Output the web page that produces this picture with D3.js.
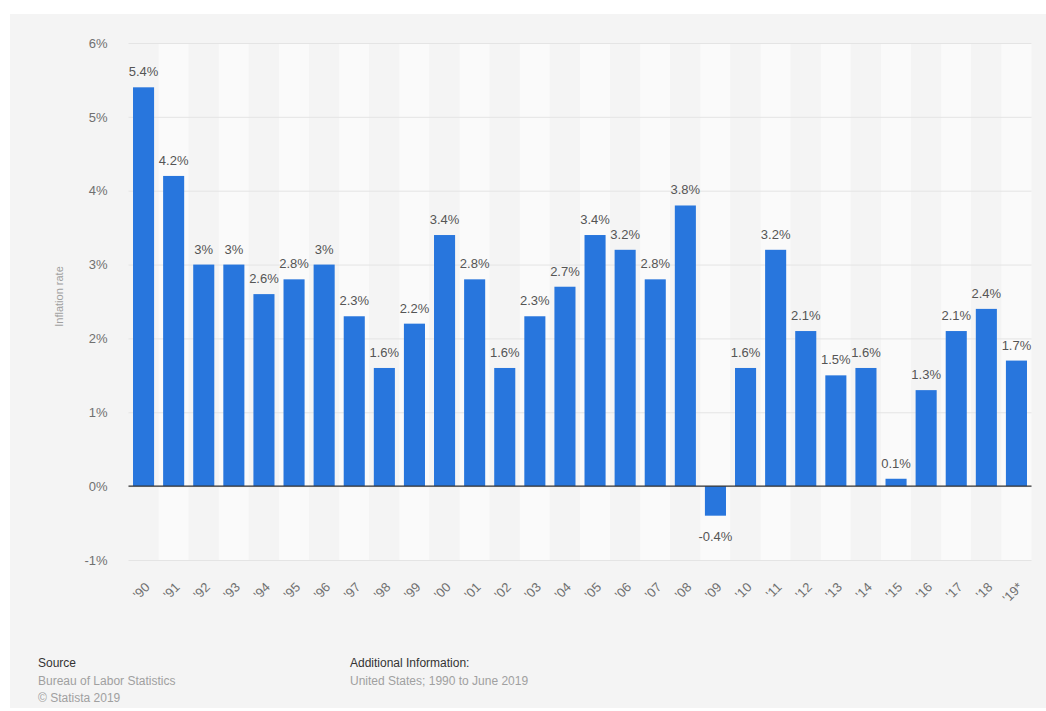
<!DOCTYPE html>
<html>
<head>
<meta charset="utf-8">
<script src="https://cdn.jsdelivr.net/npm/d3@7"></script>
<style>
  html, body { margin: 0; padding: 0; background: #ffffff; }
  svg { display: block; font-family: "Liberation Sans", Arial, Helvetica, sans-serif; }
</style>
</head>
<body>
<svg id="chart" width="1046" height="711"></svg>
<script>
// US inflation rate, 1990 – June 2019
const years = ["'90","'91","'92","'93","'94","'95","'96","'97","'98","'99",
               "'00","'01","'02","'03","'04","'05","'06","'07","'08","'09",
               "'10","'11","'12","'13","'14","'15","'16","'17","'18","'19*"];
const inflation = [5.4, 4.2, 3.0, 3.0, 2.6, 2.8, 3.0, 2.3, 1.6, 2.2,
                   3.4, 2.8, 1.6, 2.3, 2.7, 3.4, 3.2, 2.8, 3.8, -0.4,
                   1.6, 3.2, 2.1, 1.5, 1.6, 0.1, 1.3, 2.1, 2.4, 1.7];
const valueLabels = ["5.4%","4.2%","3%","3%","2.6%","2.8%","3%","2.3%","1.6%","2.2%",
                     "3.4%","2.8%","1.6%","2.3%","2.7%","3.4%","3.2%","2.8%","3.8%","-0.4%",
                     "1.6%","3.2%","2.1%","1.5%","1.6%","0.1%","1.3%","2.1%","2.4%","1.7%"];
const yTicks = [-1, 0, 1, 2, 3, 4, 5, 6];

const svg = d3.select("#chart");

// panel background
svg.append("rect")
  .attr("x", 10).attr("y", 14).attr("width", 1036).attr("height", 694)
  .attr("fill", "#f4f4f4");

const plot = { left: 128.5, right: 1031.5, top: 43, bottom: 560 };

const x = d3.scaleBand()
  .domain(years)
  .range([plot.left, plot.right])
  .paddingInner(0.3)
  .paddingOuter(0.15);

const y = d3.scaleLinear()
  .domain([-1, 6])
  .range([plot.bottom, plot.top]);

// alternating column stripes
const step = x.step();
const bandStart = d => x(d) - x.paddingInner() * step / 2;
svg.append("g")
  .selectAll("rect")
  .data(years)
  .join("rect")
  .attr("x", d => bandStart(d))
  .attr("y", plot.top)
  .attr("width", step)
  .attr("height", plot.bottom - plot.top)
  .attr("fill", (d, i) => i % 2 === 1 ? "#fafafa" : "#f4f4f4");

// horizontal grid + y axis labels
const yAxis = d3.axisLeft(y)
  .tickValues(yTicks)
  .tickFormat(d => d + "%")
  .tickSize(-(plot.right - plot.left))
  .tickPadding(21);

const gy = svg.append("g")
  .attr("transform", `translate(${plot.left},0)`)
  .call(yAxis);
gy.select(".domain").remove();
gy.selectAll(".tick line").attr("stroke", "#e4e4e4").attr("stroke-width", 1);
gy.selectAll(".tick text")
  .attr("fill", "#707070")
  .attr("font-size", 13)
  .attr("font-family", "Liberation Sans, Arial, sans-serif");

// y axis title
svg.append("text")
  .attr("transform", `translate(63,${(plot.top + plot.bottom) / 2 - 5}) rotate(-90)`)
  .attr("text-anchor", "middle")
  .attr("fill", "#a0a0a0")
  .attr("font-size", 11)
  .text("Inflation rate");

// bars
svg.append("g")
  .selectAll("rect")
  .data(inflation)
  .join("rect")
  .attr("x", (d, i) => x(years[i]))
  .attr("y", d => y(Math.max(0, d)))
  .attr("width", x.bandwidth())
  .attr("height", d => Math.abs(y(d) - y(0)))
  .attr("fill", "#2876dd");

// zero line
svg.append("line")
  .attr("x1", plot.left).attr("x2", plot.right)
  .attr("y1", y(0)).attr("y2", y(0))
  .attr("stroke", "#333333")
  .attr("stroke-width", 1.2);

// value labels
svg.append("g")
  .selectAll("text")
  .data(inflation)
  .join("text")
  .attr("x", (d, i) => x(years[i]) + x.bandwidth() / 2)
  .attr("y", d => d >= 0 ? y(d) - 11 : y(d) + 25)
  .attr("text-anchor", "middle")
  .attr("fill", "#555555")
  .attr("font-size", 13)
  .text((d, i) => valueLabels[i]);

// x axis labels
const xAxis = d3.axisBottom(x).tickSize(0).tickPadding(0);
const gx = svg.append("g")
  .attr("transform", `translate(0,${plot.bottom})`)
  .call(xAxis);
gx.select(".domain").remove();
gx.selectAll(".tick text")
  .attr("fill", "#707070")
  .attr("font-size", 13)
  .attr("font-family", "Liberation Sans, Arial, sans-serif")
  .attr("text-anchor", "end")
  .attr("dy", 0)
  .attr("transform", "translate(7,28) rotate(-45)");

// footer
const footer = svg.append("g").attr("font-size", 12);
footer.append("text").attr("x", 38).attr("y", 667).attr("fill", "#333333").text("Source");
footer.append("text").attr("x", 38).attr("y", 685).attr("fill", "#a0a0a0").text("Bureau of Labor Statistics");
footer.append("text").attr("x", 38).attr("y", 702).attr("fill", "#a0a0a0").text("© Statista 2019");
footer.append("text").attr("x", 350).attr("y", 667).attr("fill", "#333333").text("Additional Information:");
footer.append("text").attr("x", 350).attr("y", 685).attr("fill", "#a0a0a0").text("United States; 1990 to June 2019");
</script>
</body>
</html>
